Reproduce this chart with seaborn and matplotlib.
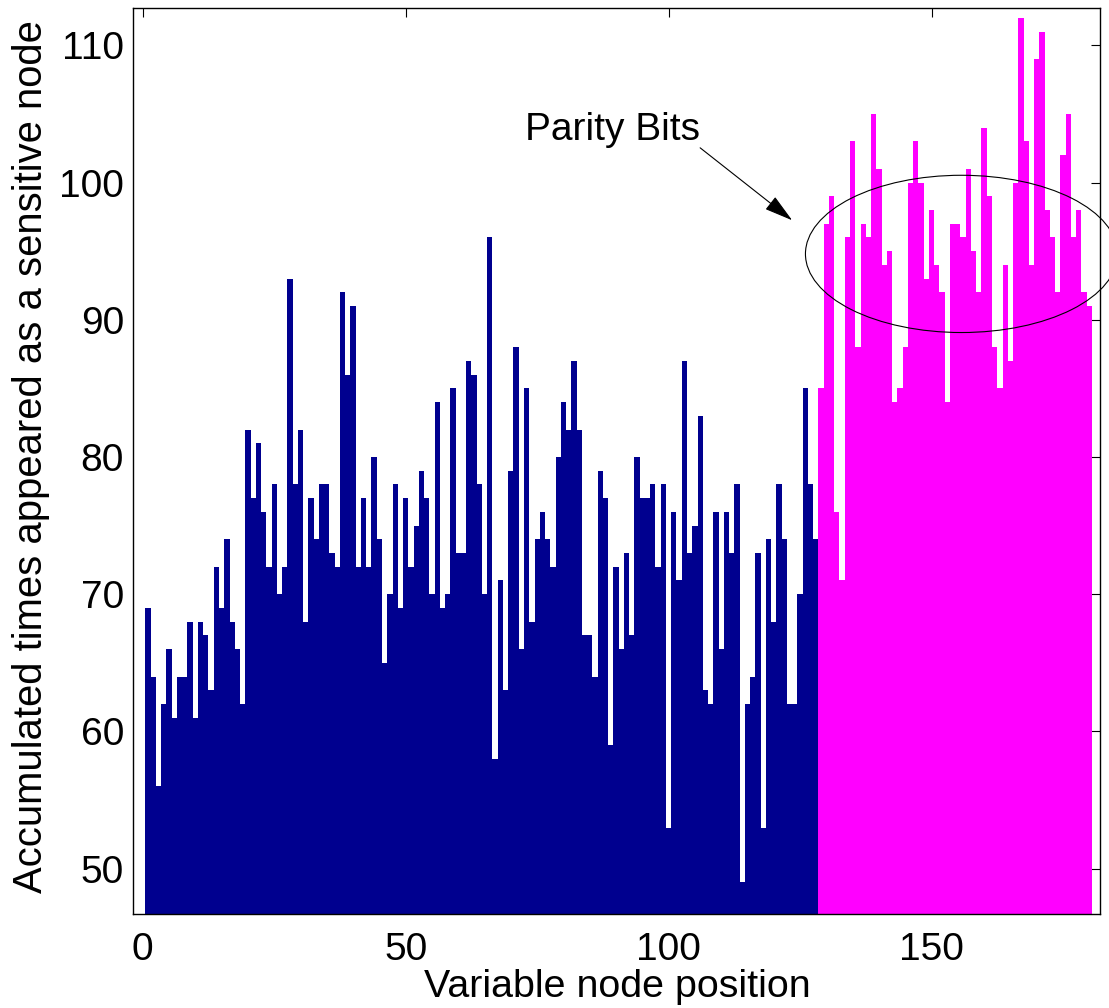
import numpy as np
import pandas as pd
import matplotlib
matplotlib.use("Agg")
import matplotlib.pyplot as plt
import seaborn as sns
from matplotlib.patches import Ellipse

# ---- data ----
info_counts = [69, 64, 56, 62, 66, 61, 64, 64, 68, 61,
               68, 67, 63, 72, 69, 74, 68, 66, 62, 82,
               77, 81, 76, 72, 78, 70, 72, 93, 78, 82,
               68, 77, 74, 78, 78, 73, 72, 92, 86, 91,
               72, 77, 72, 80, 74, 65, 70, 78, 69, 77,
               72, 75, 79, 77, 70, 84, 69, 70, 85, 73,
               73, 87, 86, 78, 70, 96, 58, 71, 63, 79,
               88, 66, 85, 68, 74, 76, 74, 72, 80, 84,
               82, 87, 82, 67, 67, 64, 79, 77, 59, 72,
               66, 73, 67, 80, 77, 77, 78, 72, 78, 53,
               76, 71, 87, 73, 75, 83, 63, 62, 76, 66,
               76, 73, 78, 49, 62, 64, 73, 53, 74, 68,
               78, 74, 62, 62, 70, 85, 78, 74]
parity_counts = [85, 97, 99, 76, 71, 96, 103, 88, 97, 96,
                 105, 101, 94, 95, 84, 85, 88, 100, 103, 100,
                 93, 98, 94, 92, 84, 97, 97, 96, 101, 95,
                 92, 104, 99, 88, 85, 94, 87, 100, 112, 103,
                 94, 109, 111, 98, 96, 92, 102, 105, 96, 98,
                 92, 91]
group_names = ["Information bits", "Parity bits"]
x_ticks = [0, 50, 100, 150]
y_ticks = [50, 60, 70, 80, 90, 100, 110]
x_label = "Variable node position"
y_label = "Accumulated times appeared as a sensitive node"
annotation_text = "Parity Bits"

counts = info_counts + parity_counts
positions = np.arange(1, len(counts) + 1)
groups = [group_names[0]] * len(info_counts) + [group_names[1]] * len(parity_counts)
df = pd.DataFrame({"position": positions, "count": counts, "group": groups})

sns.set_theme(style="white")
plt.rcParams["font.family"] = ["Liberation Sans", "DejaVu Sans"]

fig = plt.figure(figsize=(11.09, 10.08), dpi=100)
ax = fig.add_axes([0.1197, 0.0933, 0.8720, 0.8985])

sns.barplot(data=df, x="position", y="count", hue="group",
            palette={group_names[0]: "#00008F", group_names[1]: "#FF00FF"},
            native_scale=True, dodge=False, width=1.0, errorbar=None,
            saturation=1, linewidth=0, legend=False, ax=ax)

ax.set_xlim(-1.9, 182.0)
ax.set_ylim(46.7, 112.7)
ax.set_xticks(x_ticks)
ax.set_xticklabels([str(t) for t in x_ticks])
ax.set_yticks(y_ticks)
ax.set_yticklabels([str(t) for t in y_ticks])
ax.tick_params(direction="in", length=6.5, width=0.8, top=True, right=True,
               labelsize=28, colors="black")
ax.tick_params(axis="x", pad=12.8)
ax.tick_params(axis="y", pad=6.3)
for s in ax.spines.values():
    s.set_color("black")
    s.set_linewidth(1.0)
ax.set_xlabel(x_label, fontsize=28.4, color="black")
ax.set_ylabel(y_label, fontsize=28.8, color="black")
ax.xaxis.set_label_coords(0.5012, -0.0613)
ax.yaxis.set_label_coords(-0.0852, 0.5051)

# annotation: ellipse around parity bits, arrow and label
ell = Ellipse((155.7, 94.8), width=59.35, height=11.46, fill=False,
              edgecolor="black", linewidth=0.8, clip_on=False, zorder=5)
ax.add_patch(ell)
ax.annotate("", xy=(123.5, 97.25), xytext=(106.0, 102.53),
            arrowprops=dict(arrowstyle="-|>,head_length=0.9,head_width=0.25",
                            color="black", lw=0.8, shrinkA=0, shrinkB=0,
                            mutation_scale=20),
            annotation_clip=False, zorder=6)
ax.text(72.7, 103.1, annotation_text, fontsize=28, ha="left", va="baseline",
        color="black", zorder=6)

fig.savefig("out.png", dpi=100)
